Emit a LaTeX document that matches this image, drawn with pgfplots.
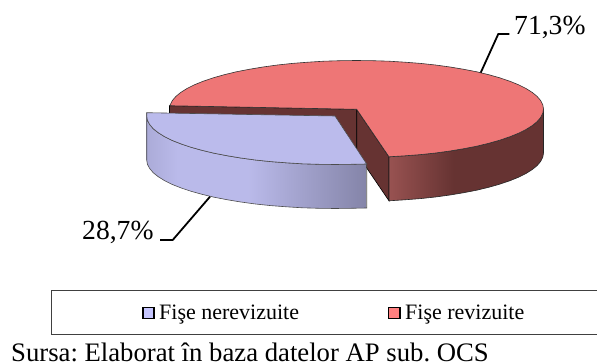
\documentclass[border=0pt]{standalone}
\usepackage{fontspec}
\setmainfont{Liberation Serif}
\usepackage{pgfplots}
\pgfplotsset{compat=1.18}
\frenchspacing
\definecolor{redtop}{HTML}{EE7676}
\definecolor{bluetop}{HTML}{BBBBEC}
\definecolor{reddark}{HTML}{663332}
\definecolor{redlight}{HTML}{985251}
\definecolor{bluelight}{HTML}{BABAEA}
\definecolor{blueedge}{HTML}{ABABD8}
\definecolor{bluedark}{HTML}{8484A8}
\definecolor{legblue}{HTML}{C6C6FF}
\definecolor{legred}{HTML}{FF8080}
\pgfdeclarehorizontalshading{redwall}{100bp}{color(0bp)=(redlight);color(25bp)=(redlight);color(46bp)=(reddark);color(100bp)=(reddark)}
\pgfdeclarehorizontalshading{bluewall}{100bp}{color(0bp)=(blueedge);color(25bp)=(blueedge);color(32bp)=(bluelight);color(48bp)=(bluelight);color(75bp)=(bluedark);color(100bp)=(bluedark)}
\begin{document}
\begin{tikzpicture}
\path[use as bounding box] (0,0) rectangle (597pt,363pt);
\begin{axis}[
  at={(0,0)},anchor=south west,
  scale only axis,width=597pt,height=363pt,
  xmin=0,xmax=597,ymin=0,ymax=363,y dir=reverse,
  hide axis,clip=false]
% red inner walls
\addplot[fill=reddark,draw=black,line width=0.6pt] coordinates {(169.5,105.7)(356.7,109.3)(356.7,153.3)(169.5,149.7)} -- cycle;
\addplot[fill=reddark,draw=black,line width=0.6pt] coordinates {(356.7,109.3)(389.0,156.8)(389.0,200.8)(356.7,153.3)} -- cycle;
% red outer wall
\addplot[shade,shading=redwall,draw=black!85,line width=0.6pt] coordinates {
(389.0,156.8)(404.9,155.8)(420.5,154.6)(435.5,153.0)(450.0,151.0)(463.8,148.7)(476.7,146.2)(488.7,143.3)(499.7,140.2)(509.7,136.8)(518.4,133.3)(526.0,129.5)(532.2,125.6)(537.1,121.6)(540.7,117.4)(542.8,113.2)(543.5,109)
(543.5,153)(542.8,157.2)(540.7,161.4)(537.1,165.6)(532.2,169.6)(526.0,173.5)(518.4,177.3)(509.7,180.8)(499.7,184.2)(488.7,187.3)(476.7,190.2)(463.8,192.7)(450.0,195.0)(435.5,197.0)(420.5,198.6)(404.9,199.8)(389.0,200.8)} -- cycle;
% red top
\addplot[fill=redtop,draw=black!80,line width=0.6pt] coordinates {
(356.7,109.3)(389.0,156.8)(404.9,155.8)(420.5,154.6)(435.5,153.0)(450.0,151.0)(463.8,148.7)(476.7,146.2)(488.7,143.3)(499.7,140.2)(509.7,136.8)(518.4,133.3)(526.0,129.5)(532.2,125.6)(537.1,121.6)(540.7,117.4)(542.8,113.2)(543.5,109)
(542.8,104.8)(540.7,100.6)(537.1,96.4)(532.2,92.4)(526.0,88.5)(518.4,84.7)(509.7,81.2)(499.7,77.8)(488.7,74.7)(476.7,71.8)(463.8,69.3)(450.0,67.0)(435.5,65.0)(420.5,63.4)(404.9,62.2)(389.0,61.2)(372.8,60.7)(356.5,60.5)
(340.2,60.7)(324.0,61.2)(308.1,62.2)(292.5,63.4)(277.5,65.0)(263.0,67.0)(249.2,69.3)(236.3,71.8)(224.3,74.7)(213.3,77.8)(203.3,81.2)(194.6,84.7)(187.0,88.5)(180.8,92.4)(175.9,96.4)(172.3,100.6)(170.2,104.8)(169.5,105.7)} -- cycle;
% blue wall
\addplot[shade,shading=bluewall,draw=black!70,line width=0.6pt] coordinates {
(146.7,112.7)(146.7,116)(147.4,120.2)(149.6,124.4)(153.1,128.6)(158.1,132.6)(164.3,136.5)(171.9,140.3)(180.7,143.8)(190.8,147.2)(201.9,150.3)(214.0,153.2)(227.0,155.7)(240.8,158.0)(255.4,160.0)(270.6,161.6)(286.3,162.8)(302.3,163.8)(318.6,164.3)(335.0,164.5)(351.4,164.3)(366.7,164)
(366.7,208)(351.4,208.3)(335.0,208.5)(318.6,208.3)(302.3,207.8)(286.3,206.8)(270.6,205.6)(255.4,204.0)(240.8,202.0)(227.0,199.7)(214.0,197.2)(201.9,194.3)(190.8,191.2)(180.7,187.8)(171.9,184.3)(164.3,180.5)(158.1,176.6)(153.1,172.6)(149.6,168.4)(147.4,164.2)(146.7,160)} -- cycle;
% blue top
\addplot[fill=bluetop,draw=black!70,line width=0.6pt] coordinates {
(146.7,112.7)(335,116)(366.7,164)(351.4,164.3)(335.0,164.5)(318.6,164.3)(302.3,163.8)(286.3,162.8)(270.6,161.6)(255.4,160.0)(240.8,158.0)(227.0,155.7)(214.0,153.2)(201.9,150.3)(190.8,147.2)(180.7,143.8)(171.9,140.3)(164.3,136.5)(158.1,132.6)(153.1,128.6)(149.6,124.4)(147.4,120.2)(146.7,116)} -- cycle;
% leaders
\addplot[black,line width=1.8pt] coordinates {(480.7,72.7)(498.3,34)(509.3,34)};
\addplot[black,line width=1.8pt] coordinates {(210,196.7)(172.7,240)(160,240)};
% legend box
\addplot[draw=black!75,line width=0.8pt] coordinates {(51,290.7)(597,290.7)};
\addplot[draw=black!75,line width=0.8pt] coordinates {(51,334.3)(597,334.3)};
\addplot[draw=black!75,line width=0.8pt] coordinates {(51,290.7)(51,334.3)};
\addplot[only marks,mark=square*,mark size=5.6pt,mark options={fill=legblue,draw=black,line width=1.5pt}] coordinates {(148.5,313)};
\addplot[only marks,mark=square*,mark size=5.6pt,mark options={fill=legred,draw=black,line width=1.5pt}] coordinates {(394.2,313)};
% text
\node[anchor=base west,inner sep=0pt,font=\fontsize{27.6}{30}\selectfont] at (axis cs:514,35) {71,3\%};
\node[anchor=base west,inner sep=0pt,font=\fontsize{27.6}{30}\selectfont] at (axis cs:82,240) {28,7\%};
\node[anchor=base west,inner sep=0pt,font=\fontsize{22}{24}\selectfont] at (axis cs:159,319.5) {Fişe nerevizuite};
\node[anchor=base west,inner sep=0pt,font=\fontsize{22}{24}\selectfont] at (axis cs:405,319.5) {Fişe revizuite};
\node[anchor=base west,inner sep=0pt,font=\fontsize{26.7}{27}\selectfont] at (axis cs:11,361.3) {Sursa: Elaborat în baza datelor AP sub. OCS};
\end{axis}
\end{tikzpicture}
\end{document}
